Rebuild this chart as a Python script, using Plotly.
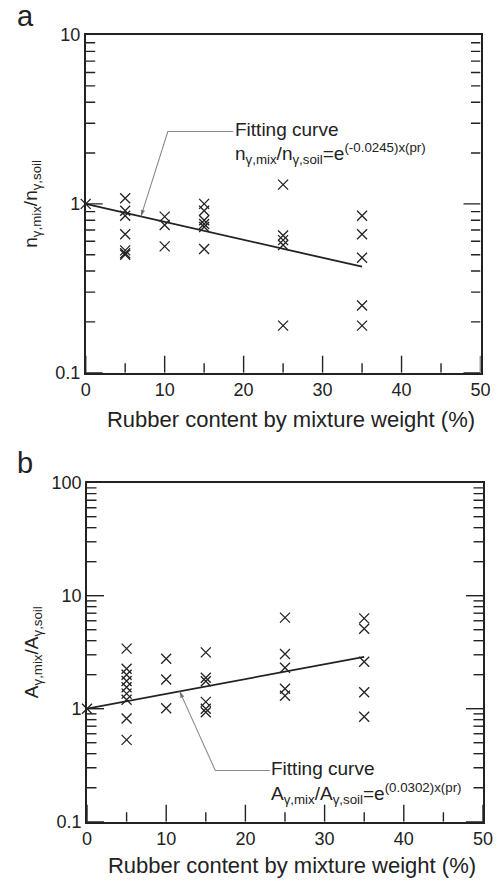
import numpy as np
import plotly.graph_objects as go

# ---- data -------------------------------------------------------------
# rubber content (% by mixture weight) and normalised bearing-capacity ratios
pr_a = [0, 5, 5, 5, 5, 5, 5, 5, 10, 10, 10, 15, 15, 15, 15, 15, 15,
        25, 25, 25, 25, 25, 35, 35, 35, 35, 35]
n_ratio = [1.0, 1.08, 0.91, 0.85, 0.66, 0.53, 0.51, 0.50, 0.84, 0.75, 0.56,
           1.0, 0.91, 0.80, 0.76, 0.73, 0.54, 1.30, 0.65, 0.61, 0.57, 0.19,
           0.85, 0.66, 0.48, 0.25, 0.19]

pr_b = [0, 5, 5, 5, 5, 5, 5, 5, 5, 5, 10, 10, 10, 15, 15, 15, 15, 15, 15,
        25, 25, 25, 25, 25, 35, 35, 35, 35, 35]
a_ratio = [1.0, 3.40, 2.26, 2.0, 1.76, 1.55, 1.36, 1.2, 0.82, 0.53,
           2.77, 1.81, 1.01, 3.15, 1.88, 1.75, 1.15, 1.0, 0.93,
           6.4, 3.05, 2.3, 1.5, 1.3, 6.3, 5.1, 2.6, 1.4, 0.85]

# exponential fitting coefficients
k_a = -0.0245
k_b = 0.0302
fit_max = 35

x_range = [0, 50]
x_ticks = [0, 10, 20, 30, 40, 50]
x_minor = [5, 15, 25, 35, 45]
y_ticks_a = [0.1, 1, 10]
y_ticks_b = [0.1, 1, 10, 100]

x_title = "Rubber content by mixture weight (%)"
y_title_a = "n<sub>γ,mix</sub>/n<sub>γ,soil</sub>"
y_title_b = "A<sub>γ,mix</sub>/A<sub>γ,soil</sub>"
eq_a = "n<sub>γ,mix</sub>/n<sub>γ,soil</sub>=e<sup>(-0.0245)x(pr)</sup>"
eq_b = "A<sub>γ,mix</sub>/A<sub>γ,soil</sub>=e<sup>(0.0302)x(pr)</sup>"

# ---- styling ----------------------------------------------------------
FONT = "Liberation Sans, Arial, sans-serif"
INK = "#222222"
GREY = "#8a8a8a"
W, H = 499, 885
MAJOR_LEN, MINOR_LEN = 17, 9.5


def px(x):
    return x / W


def py(y):
    return 1 - y / H


panels = {
    "a": dict(xa="x", ya="y", dom_x=[px(85.7), px(480.5)],
              dom_y=[py(372.7), py(35)], rng=(-1, 1)),
    "b": dict(xa="x2", ya="y2", dom_x=[px(87), px(483)],
              dom_y=[py(821.7), py(482.7)], rng=(-1, 2)),
}

fig = go.Figure()


# inward tick marks drawn as a line trace in each panel's data space
def add_ticks(p):
    w_px = (p["dom_x"][1] - p["dom_x"][0]) * W
    h_px = (p["dom_y"][1] - p["dom_y"][0]) * H
    lo, hi = p["rng"]
    span_x = x_range[1] - x_range[0]
    xs, ys = [], []
    y_bot = 10.0 ** lo
    for v, ln in [(v, MAJOR_LEN) for v in x_ticks] + [(v, MINOR_LEN) for v in x_minor]:
        xs += [v, v, None]
        ys += [y_bot, 10.0 ** (lo + ln / h_px * (hi - lo)), None]
    for e in range(lo, hi):
        for m in range(1, 10):
            val = m * 10.0 ** e
            ln = (MAJOR_LEN if m == 1 else MINOR_LEN) / w_px * span_x
            xs += [x_range[0], x_range[0] + ln, None, x_range[1] - ln, x_range[1], None]
            ys += [val, val, None, val, val, None]
    fig.add_trace(go.Scatter(x=xs, y=ys, mode="lines", xaxis=p["xa"], yaxis=p["ya"],
                             line=dict(color=INK, width=1.4),
                             showlegend=False, hoverinfo="skip"))


add_ticks(panels["a"])
add_ticks(panels["b"])

fit_x = np.linspace(0, fit_max, 50)
marker = dict(symbol="x-thin", size=10, line=dict(width=1.3, color=INK))

for p, xs, ys, k in [(panels["a"], pr_a, n_ratio, k_a), (panels["b"], pr_b, a_ratio, k_b)]:
    fig.add_trace(go.Scatter(x=xs, y=ys, mode="markers", marker=marker,
                             cliponaxis=False, xaxis=p["xa"], yaxis=p["ya"],
                             showlegend=False))
    fig.add_trace(go.Scatter(x=fit_x, y=np.exp(k * fit_x), mode="lines",
                             line=dict(color=INK, width=1.8), xaxis=p["xa"],
                             yaxis=p["ya"], showlegend=False))

# leader lines from the label to the fitted curve, ending in an arrowhead
lead_a = dict(tip=7.0, bend=(10.4, 2.68), end=18.7)
lead_b = dict(tip=11.7, bend=(16.2, 0.284), end=23.1)

for lead, k, p in [(lead_a, k_a, panels["a"]), (lead_b, k_b, panels["b"])]:
    bx, by = lead["bend"]
    tip_y = float(np.exp(k * lead["tip"]))
    fig.add_trace(go.Scatter(x=[lead["end"], bx, lead["tip"]], y=[by, by, tip_y],
                             mode="lines", line=dict(color=GREY, width=1.1),
                             xaxis=p["xa"], yaxis=p["ya"], showlegend=False,
                             hoverinfo="skip"))
    fig.add_trace(go.Scatter(x=[bx, lead["tip"]], y=[by, tip_y], mode="markers",
                             marker=dict(symbol="arrow", size=[0, 7], angleref="previous",
                                         color="#555555", line=dict(width=0)),
                             xaxis=p["xa"], yaxis=p["ya"], showlegend=False,
                             hoverinfo="skip"))


# free text placed by page pixel position on a full-page overlay axis pair
def add_text(x_px, y_px, text, size, position):
    fig.add_trace(go.Scatter(x=[x_px], y=[y_px], mode="text", text=[text],
                             textposition=position, cliponaxis=False,
                             textfont=dict(family=FONT, size=size, color=INK),
                             xaxis="x3", yaxis="y3", showlegend=False,
                             hoverinfo="skip"))


add_text(25, 19, "a", 29, "middle center")
add_text(25, 466, "b", 29, "middle center")
add_text(291, 421, x_title, 22, "middle center")
add_text(292, 867, x_title, 22, "middle center")
add_text(235, 131, "Fitting curve", 19, "middle right")
add_text(235, 155, eq_a, 19, "middle right")
add_text(271, 770, "Fitting curve", 19, "middle right")
add_text(271, 795, eq_b, 19, "middle right")

tickfont = dict(family=FONT, size=18, color=INK)


def axis_x(p):
    return dict(domain=p["dom_x"], anchor=p["ya"], range=x_range, tickmode="array",
                tickvals=x_ticks, ticks="", showline=True, linecolor=INK,
                linewidth=1.6, mirror=True, showgrid=False, zeroline=False,
                automargin=False, tickfont=tickfont)


def axis_y(p, vals, title):
    return dict(domain=p["dom_y"], anchor=p["xa"], type="log", range=list(p["rng"]),
                tickmode="array", tickvals=vals, ticktext=[str(v) for v in vals],
                ticks="", showline=True, linecolor=INK, linewidth=1.6,
                mirror=True, showgrid=False, zeroline=False, tickfont=tickfont,
                automargin=False,
                title=dict(text=title, font=dict(family=FONT, size=19, color=INK)))


fig.update_layout(
    template="none",
    width=W, height=H,
    margin=dict(l=0, r=0, t=0, b=0),
    paper_bgcolor="white", plot_bgcolor="rgba(0,0,0,0)",
    font=dict(family=FONT, color=INK),
    xaxis=axis_x(panels["a"]),
    yaxis=axis_y(panels["a"], y_ticks_a, y_title_a),
    xaxis2=axis_x(panels["b"]),
    yaxis2=axis_y(panels["b"], y_ticks_b, y_title_b),
    xaxis3=dict(domain=[0, 1], range=[0, W], anchor="y3", visible=False,
                fixedrange=True),
    yaxis3=dict(domain=[0, 1], range=[H, 0], anchor="x3", visible=False,
                fixedrange=True),
)

fig.write_html("out.html")
